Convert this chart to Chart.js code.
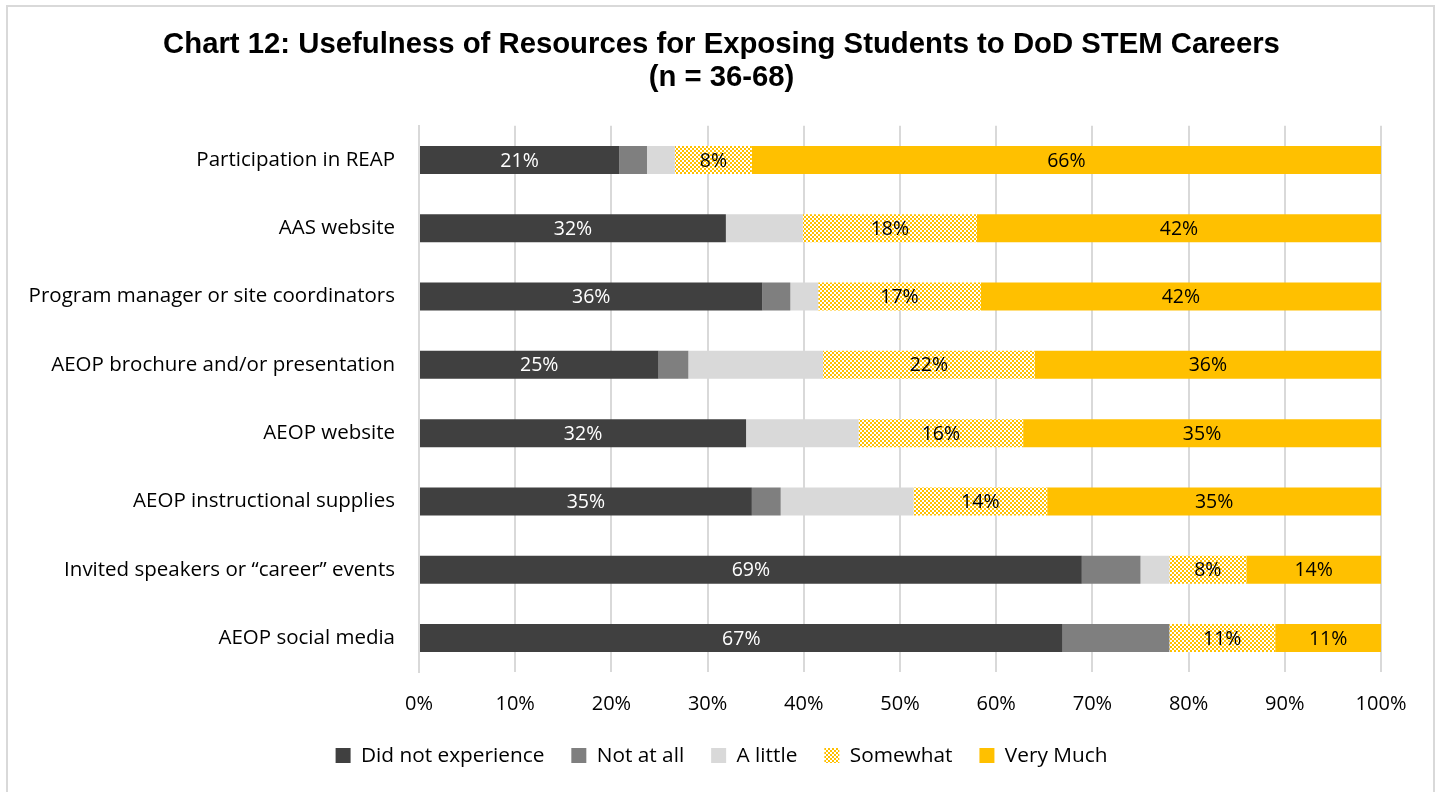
<!DOCTYPE html>
<html>
<head>
<meta charset="utf-8">
<script src="https://cdn.jsdelivr.net/npm/chart.js@4.4.1/dist/chart.umd.min.js"></script>
<style>
  body { margin: 0; background: #fff; }
  #wrap { position: absolute; left: 0; top: 0; width: 1443px; height: 792px; }
  #frame { position: absolute; left: 6px; top: 5px; width: 1429px; height: 790px; border: 2px solid #d9d9d9; box-sizing: border-box; pointer-events: none; }
</style>
</head>
<body>
<div id="wrap">
  <canvas id="chart" width="1443" height="792"></canvas>
  <div id="frame"></div>
</div>
<script>
const categories = [
    'Participation in REAP',
    'AAS website',
    'Program manager or site coordinators',
    'AEOP brochure and/or presentation',
    'AEOP website',
    'AEOP instructional supplies',
    'Invited speakers or \u201ccareer\u201d events',
    'AEOP social media'
];

// values
const didNot   = [20.8, 31.9, 35.7, 24.9, 34.0, 34.6, 68.9, 66.9];
const notAtAll = [2.9, 0, 2.9, 3.1, 0, 3.0, 6.1, 11.1];
const aLittle  = [2.9, 8.0, 2.9, 14.0, 11.7, 13.8, 3.0, 0];
const somewhat = [8.0, 18.1, 16.9, 22.0, 17.1, 13.9, 8.0, 11.0];
const veryMuch = [65.4, 42.0, 41.6, 36.0, 37.2, 34.7, 14.0, 11.0];

// labels as printed on the chart
const didNotLabels   = ['21%', '32%', '36%', '25%', '32%', '35%', '69%', '67%'];
const somewhatLabels = ['8%', '18%', '17%', '22%', '16%', '14%', '8%', '11%'];
const veryMuchLabels = ['66%', '42%', '42%', '36%', '35%', '35%', '14%', '11%'];

const FONT = "'Open Sans', sans-serif";

// checker pattern for "Somewhat"
const pc = document.createElement('canvas');
pc.width = 4; pc.height = 4;
const pctx = pc.getContext('2d');
pctx.fillStyle = '#ffffff';
pctx.fillRect(0, 0, 4, 4);
pctx.fillStyle = '#FFC000';
pctx.fillRect(0, 0, 2, 2);
pctx.fillRect(2, 2, 2, 2);
const checker = pctx.createPattern(pc, 'repeat');

const barLabels = {
    id: 'barLabels',
    afterDatasetsDraw(chart) {
        const ctx = chart.ctx;
        const sets = [[0, didNotLabels, '#ffffff'], [3, somewhatLabels, '#000000'], [4, veryMuchLabels, '#000000']];
        ctx.save();
        ctx.font = '19.5px ' + FONT;
        ctx.textAlign = 'center';
        ctx.textBaseline = 'middle';
        sets.forEach(([di, labels, color]) => {
            chart.getDatasetMeta(di).data.forEach((bar, i) => {
                const x = (bar.x + bar.base) / 2;
                ctx.fillStyle = color;
                ctx.fillText(labels[i], x, bar.y + 1);
            });
        });
        ctx.restore();
    }
};

const mk = (label, data, color) => ({
    label: label,
    data: data,
    backgroundColor: color,
    borderWidth: 0,
    barPercentage: 0.82,
    categoryPercentage: 0.5
});

const chart = new Chart(document.getElementById('chart'), {
    type: 'bar',
    data: {
        labels: categories,
        datasets: [
            mk('Did not experience', didNot, '#404040'),
            mk('Not at all', notAtAll, '#7f7f7f'),
            mk('A little', aLittle, '#d9d9d9'),
            mk('Somewhat', somewhat, checker),
            mk('Very Much', veryMuch, '#FFC000')
        ]
    },
    options: {
        indexAxis: 'y',
        responsive: false,
        animation: false,
        layout: { padding: { top: 20, right: 0, bottom: 16, left: 0 } },
        scales: {
            x: {
                stacked: true,
                min: 0,
                max: 100,
                ticks: {
                    stepSize: 10,
                    callback: v => v + '%',
                    color: '#000',
                    font: { family: FONT, size: 20 },
                    padding: 20
                },
                grid: { color: '#d9d9d9', lineWidth: 2, drawTicks: false },
                border: { display: false },
                afterFit: s => { s.height -= 18; }
            },
            y: {
                stacked: true,
                ticks: {
                    color: '#000',
                    font: { family: FONT, size: 20.5 },
                    padding: 24
                },
                grid: { display: false, drawTicks: false },
                border: { color: '#d9d9d9', width: 2 },
                afterFit: s => { s.width = 419; }
            },
            // empty right-hand spacer so the title stays centred on the page
            yRight: {
                type: 'category',
                position: 'right',
                ticks: { display: false },
                grid: { display: false, drawTicks: false },
                border: { display: false },
                afterFit: s => { s.width = 62; }
            }
        },
        plugins: {
            title: {
                display: true,
                text: ['Chart 12: Usefulness of Resources for Exposing Students to DoD STEM Careers', '(n = 36-68)'],
                color: '#000',
                font: { family: "'Liberation Sans', Arial, sans-serif", size: 29.3, weight: 'bold', lineHeight: 1.14 },
                padding: { top: 8, bottom: 31 }
            },
            legend: {
                position: 'bottom',
                labels: {
                    color: '#000',
                    font: { family: FONT, size: 20.8 },
                    boxWidth: 15,
                    boxHeight: 15,
                    padding: 27
                }
            },
            tooltip: { enabled: false }
        }
    },
    plugins: [barLabels]
});
</script>
</body>
</html>
